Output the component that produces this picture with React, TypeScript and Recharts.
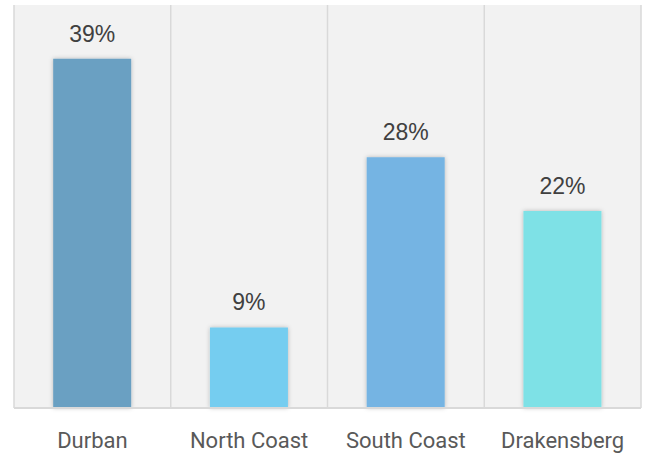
import { BarChart, Bar, XAxis, YAxis, CartesianGrid, Cell, LabelList } from 'recharts'

const REGIONS = ['Durban', 'North Coast', 'South Coast', 'Drakensberg']
const SHARE = [39, 9, 28, 22]
const BAR_COLORS = ['#6aa0c2', '#75cdf0', '#74b4e3', '#7ee1e6']

const data = REGIONS.map((region, i) => ({ region, share: SHARE[i] }))

export default function App() {
  return (
    <div style={{ position: 'absolute', left: 0, top: 0, width: 646, height: 453, background: '#ffffff' }}>
      <BarChart width={646} height={453} data={data}
                margin={{ top: 5, right: 5, left: 14, bottom: 0 }} barCategoryGap="25%">
        <defs>
          <filter id="barShadow" x="-20%" y="-10%" width="140%" height="120%">
            <feDropShadow dx="0" dy="0" stdDeviation="2" floodColor="#000" floodOpacity="0.25" />
          </filter>
        </defs>
        <CartesianGrid fill="#f2f2f2" horizontal={false} stroke="#d9d9d9" strokeWidth={1.5}
          verticalCoordinatesGenerator={({ offset }: any) =>
            [0, 1, 2, 3, 4].map(i => offset.left + (i * offset.width) / 4)} />
        <XAxis dataKey="region" height={45} tickLine={false}
               axisLine={{ stroke: '#d9d9d9', strokeWidth: 2 }}
               tick={{ fontSize: 22, fill: '#595959', fontFamily: 'Roboto' }} tickMargin={18} />
        <YAxis hide domain={[0, 45]} />
        <Bar dataKey="share" isAnimationActive={false} style={{ filter: 'url(#barShadow)' }}>
          {data.map((_, i) => <Cell key={i} fill={BAR_COLORS[i]} />)}
          <LabelList dataKey="share" position="top" offset={17} formatter={(v: any) => `${v}%`}
                     fontSize={23} fill="#404040" fontFamily="Liberation Sans" />
        </Bar>
      </BarChart>
    </div>
  )
}
